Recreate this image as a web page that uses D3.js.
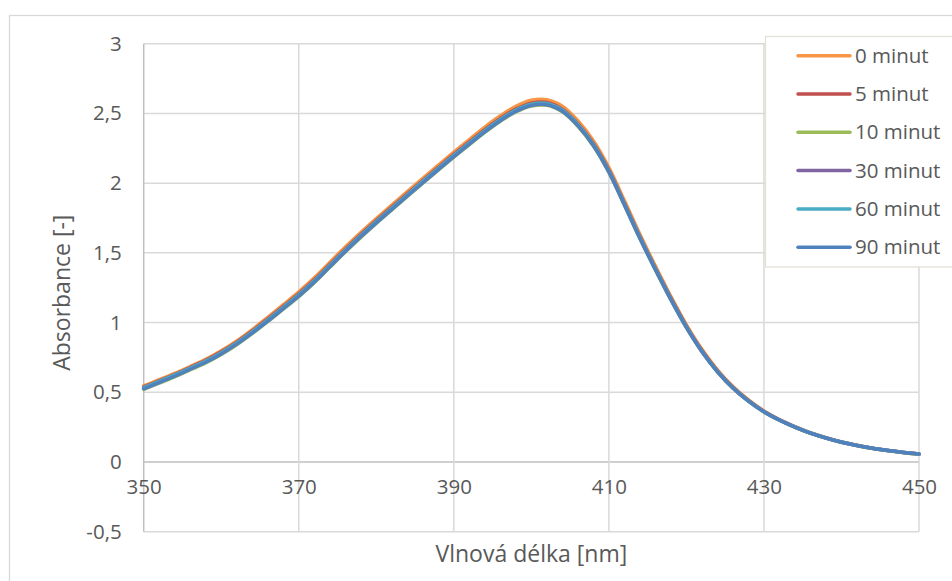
<!DOCTYPE html>
<html>
<head>
<meta charset="utf-8">
<script src="https://cdn.jsdelivr.net/npm/d3@7"></script>
<style>
  html, body { margin: 0; padding: 0; background: #ffffff; }
  svg { display: block; }
  text { font-family: "Open Sans", "DejaVu Sans", sans-serif; fill: #595959; }
</style>
</head>
<body>
<svg id="chart" width="952" height="581"></svg>
<script>
// Wavelengths (nm), 2 nm step
const wavelengths = [350,352,354,356,358,360,362,364,366,368,370,372,374,376,378,380,382,384,386,388,390,392,394,396,398,400,402,404,406,408,410,412,414,416,418,420,422,424,426,428,430,432,434,436,438,440,442,444,446,448,450];

// Absorbance spectra after each exposure time
const abs0 = [0.545,0.590,0.635,0.685,0.736,0.797,0.868,0.950,1.038,1.128,1.220,1.321,1.431,1.541,1.646,1.746,1.843,1.940,2.035,2.129,2.222,2.313,2.402,2.483,2.551,2.594,2.599,2.552,2.448,2.305,2.112,1.875,1.633,1.405,1.187,0.984,0.808,0.661,0.541,0.445,0.366,0.305,0.254,0.210,0.175,0.144,0.120,0.099,0.083,0.069,0.058];
const abs5 = [0.538,0.583,0.628,0.679,0.729,0.790,0.860,0.940,1.026,1.116,1.206,1.306,1.416,1.526,1.631,1.731,1.828,1.924,2.019,2.113,2.206,2.296,2.384,2.464,2.531,2.574,2.579,2.531,2.427,2.284,2.093,1.857,1.617,1.391,1.175,0.974,0.800,0.654,0.535,0.441,0.363,0.302,0.252,0.208,0.173,0.143,0.119,0.099,0.082,0.068,0.057];
const abs10 = [0.521,0.566,0.611,0.661,0.711,0.771,0.841,0.921,1.006,1.096,1.186,1.286,1.396,1.506,1.611,1.711,1.808,1.904,1.999,2.093,2.186,2.276,2.364,2.444,2.511,2.553,2.558,2.511,2.408,2.266,2.077,1.842,1.603,1.378,1.163,0.963,0.791,0.647,0.529,0.436,0.359,0.299,0.249,0.206,0.171,0.141,0.117,0.097,0.081,0.067,0.056];
const abs30 = [0.529,0.574,0.619,0.669,0.719,0.779,0.849,0.929,1.014,1.104,1.194,1.294,1.404,1.514,1.619,1.719,1.816,1.912,2.007,2.101,2.194,2.284,2.372,2.452,2.519,2.561,2.566,2.519,2.416,2.274,2.083,1.848,1.608,1.382,1.167,0.967,0.793,0.649,0.531,0.438,0.361,0.301,0.250,0.207,0.172,0.142,0.118,0.098,0.082,0.068,0.057];
const abs60 = [0.534,0.579,0.624,0.674,0.724,0.784,0.854,0.934,1.019,1.109,1.199,1.299,1.409,1.519,1.624,1.724,1.821,1.917,2.012,2.106,2.199,2.289,2.377,2.457,2.524,2.566,2.571,2.524,2.421,2.278,2.087,1.851,1.611,1.385,1.169,0.969,0.795,0.650,0.532,0.439,0.361,0.301,0.251,0.208,0.173,0.143,0.119,0.099,0.083,0.069,0.058];
const abs90 = [0.525,0.570,0.615,0.665,0.715,0.775,0.845,0.925,1.010,1.100,1.190,1.290,1.400,1.510,1.615,1.715,1.812,1.908,2.003,2.097,2.190,2.280,2.368,2.448,2.515,2.557,2.562,2.515,2.412,2.270,2.080,1.845,1.605,1.380,1.165,0.965,0.792,0.648,0.530,0.437,0.360,0.300,0.250,0.207,0.172,0.142,0.118,0.098,0.082,0.068,0.057];

const seriesNames = ["0 minut", "5 minut", "10 minut", "30 minut", "60 minut", "90 minut"];
const seriesValues = [abs0, abs5, abs10, abs30, abs60, abs90];
const seriesColors = ["#F79646", "#C0504D", "#9BBB59", "#8064A2", "#4BACC6", "#4F81BD"];

const xTicks = [350, 370, 390, 410, 430, 450];
const yTicks = [-0.5, 0, 0.5, 1, 1.5, 2, 2.5, 3];

const xLabel = "Vlnová délka [nm]";
const yLabel = "Absorbance [-]";

// Layout
const plot = { left: 143.7, right: 919, top: 43.7, bottom: 531.7 };

const svg = d3.select("#chart");
const locale = d3.formatLocale({ decimal: ",", thousands: " ", grouping: [3], currency: ["", ""], minus: "-" });
const fmt = locale.format("~g");

const x = d3.scaleLinear().domain([350, 450]).range([plot.left, plot.right]);
const y = d3.scaleLinear().domain([-0.5, 3]).range([plot.bottom, plot.top]);

// Outer chart frame
svg.append("rect")
  .attr("x", 9.5).attr("y", 15.5).attr("width", 1000).attr("height", 1000)
  .attr("fill", "#ffffff").attr("stroke", "#d9d9d9").attr("stroke-width", 1.3);

// Gridlines
const grid = svg.append("g");
grid.selectAll("line.h").data(yTicks).join("line")
  .attr("x1", plot.left).attr("x2", plot.right)
  .attr("y1", d => y(d)).attr("y2", d => y(d))
  .attr("stroke", d => d === 0 ? "#bfbfbf" : "#d9d9d9")
  .attr("stroke-width", 1.5);
grid.selectAll("line.v").data(xTicks).join("line")
  .attr("x1", d => x(d)).attr("x2", d => x(d))
  .attr("y1", plot.top).attr("y2", plot.bottom)
  .attr("stroke", d => d === 350 ? "#bfbfbf" : "#d9d9d9")
  .attr("stroke-width", 1.5);

// Y axis labels
const yAxis = d3.axisLeft(y).tickValues(yTicks).tickSize(0).tickPadding(0).tickFormat(fmt);
const gy = svg.append("g").attr("transform", `translate(${plot.left - 22},0)`).call(yAxis);
gy.select(".domain").remove();
gy.selectAll("text").attr("font-size", "20.5px").attr("fill", "#595959")
  .style("font-family", '"Open Sans", sans-serif');

// X axis labels, placed next to the zero line
const xAxis = d3.axisBottom(x).tickValues(xTicks).tickSize(0).tickPadding(0).tickFormat(fmt);
const gx = svg.append("g").attr("transform", `translate(0,${y(0) + 17})`).call(xAxis);
gx.select(".domain").remove();
gx.selectAll("text").attr("font-size", "20.5px").attr("fill", "#595959")
  .style("font-family", '"Open Sans", sans-serif');

// Spectra
const line = d3.line()
  .x((d, i) => x(wavelengths[i]))
  .y(d => y(d))
  .curve(d3.curveCatmullRom.alpha(0.5));

svg.append("g").selectAll("path").data(seriesValues).join("path")
  .attr("d", d => line(d))
  .attr("fill", "none")
  .attr("stroke", (d, i) => seriesColors[i])
  .attr("stroke-width", 3.5)
  .attr("stroke-linejoin", "round")
  .attr("stroke-linecap", "round");

// Axis titles
svg.append("text")
  .attr("x", (plot.left + plot.right) / 2).attr("y", 562)
  .attr("text-anchor", "middle").attr("font-size", "23px")
  .text(xLabel);
svg.append("text")
  .attr("transform", `translate(70,${(plot.top + plot.bottom) / 2 + 5}) rotate(-90)`)
  .attr("text-anchor", "middle").attr("font-size", "23px")
  .text(yLabel);

// Legend
const legend = svg.append("g");
legend.append("rect")
  .attr("x", 765.5).attr("y", 36.5).attr("width", 200).attr("height", 230.5)
  .attr("fill", "#ffffff").attr("stroke", "#e3e0d6").attr("stroke-width", 1.3);
const rows = legend.selectAll("g.row").data(seriesNames).join("g")
  .attr("transform", (d, i) => `translate(0,${55.7 + i * 38.3})`);
rows.append("line")
  .attr("x1", 798).attr("x2", 850).attr("y1", 0).attr("y2", 0)
  .attr("stroke", (d, i) => seriesColors[i]).attr("stroke-width", 3.5)
  .attr("stroke-linecap", "round");
rows.append("text")
  .attr("x", 855).attr("y", 0).attr("dy", "0.35em")
  .attr("font-size", "20.5px")
  .text(d => d);
</script>
</body>
</html>
